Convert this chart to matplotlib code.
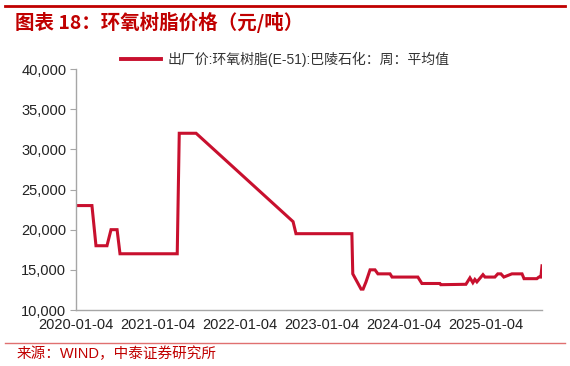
import numpy as np
import pandas as pd
import matplotlib
matplotlib.use('agg')
import matplotlib.pyplot as plt
import matplotlib.dates as mdates
from matplotlib.lines import Line2D

plt.rcParams['font.family'] = ['Liberation Sans', 'Noto Sans CJK SC', 'DejaVu Sans']

# weekly average price (yuan/ton)
dates = ['2020-01-04', '2020-03-15', '2020-04-02', '2020-05-21', '2020-06-08',
         '2020-07-05', '2020-07-18', '2021-03-30', '2021-04-08', '2021-06-22',
         '2022-08-28', '2022-09-10', '2023-05-17', '2023-05-21', '2023-06-27',
         '2023-07-06', '2023-07-19', '2023-08-06', '2023-08-28', '2023-09-10',
         '2023-11-03', '2023-11-12', '2024-03-06', '2024-03-24', '2024-06-12',
         '2024-06-16', '2024-10-06', '2024-10-24', '2024-11-06', '2024-11-15',
         '2024-11-24', '2024-12-21', '2024-12-30', '2025-02-12', '2025-02-25',
         '2025-03-11', '2025-03-24', '2025-04-29', '2025-06-13', '2025-06-22',
         '2025-08-18', '2025-08-27', '2025-09-05', '2025-09-10']
prices = [23000, 23000, 18000, 18000, 20000,
          20000, 17000, 17000, 32000, 32000,
          21000, 19500, 19500, 14500, 12600,
          12600, 13500, 15000, 15000, 14500,
          14500, 14100, 14100, 13300, 13300,
          13150, 13200, 14000, 13400, 13800,
          13500, 14400, 14100, 14100, 14500,
          14500, 14100, 14500, 14500, 13900,
          13900, 14100, 14100, 15500]
tick_dates = ['2020-01-04', '2021-01-04', '2022-01-04',
              '2023-01-04', '2024-01-04', '2025-01-04']
y_ticks = [10000, 15000, 20000, 25000, 30000, 35000, 40000]

title = '图表 18：环氧树脂价格（元/吨）'
legend_label = '出厂价:环氧树脂(E-51):巴陵石化：周：平均值'
source = '来源：WIND，中泰证券研究所'

red = '#C8102E'
x = pd.to_datetime(dates)

fig = plt.figure(figsize=(5.7, 3.66), dpi=100)
ax = fig.add_axes([76/570, 1-310/366, (542-76)/570, (310-69)/366])
ax.plot(x, prices, color=red, lw=2.2, solid_joinstyle='miter')

ax.set_ylim(10000, 40000)
ax.set_yticks(y_ticks)
ax.yaxis.set_major_formatter(matplotlib.ticker.FuncFormatter(lambda v, p: '{:,.0f}'.format(v)))
ax.set_xlim(x[0], x[-1])
ax.set_xticks(pd.to_datetime(tick_dates))
ax.xaxis.set_major_formatter(mdates.DateFormatter('%Y-%m-%d'))

for s in ['top', 'right']:
    ax.spines[s].set_visible(False)
for s in ['left', 'bottom']:
    ax.spines[s].set_color('#A6A6A6')
    ax.spines[s].set_linewidth(1.0)
ax.tick_params(axis='y', length=4, color='#A6A6A6', labelsize=10.5, pad=3,
               labelcolor='#222222')
ax.tick_params(axis='x', length=0, labelsize=10.5, pad=6, labelcolor='#222222')

handle = Line2D([], [], color=red, lw=2.8)
fig.legend([handle], [legend_label], loc='center left',
           bbox_to_anchor=(108/570, 1-59/366), frameon=False,
           handlelength=2.9, handletextpad=0.5,
           prop={'family': ['Liberation Sans', 'Noto Sans CJK SC', 'DejaVu Sans'], 'size': 10},
           labelcolor='#333333')

# header / footer
fig.add_artist(Line2D([5/570, 565/570], [1-6/366, 1-6/366], color='#C00000', lw=2.0))
fig.text(15/570, 1-22/366, title, color='#C00000', fontsize=14, fontweight='bold',
         family=['Noto Sans CJK SC', 'DejaVu Sans'], va='center', ha='left')
fig.add_artist(Line2D([5/570, 565/570], [1-343/366, 1-343/366], color='#E07070', lw=1.0))
fig.text(17/570, 1-354/366, source, color='#C00000', fontsize=10.5,
         family=['Liberation Sans', 'Noto Sans CJK SC', 'DejaVu Sans'], va='center', ha='left')

fig.savefig('out.png', dpi=100)
